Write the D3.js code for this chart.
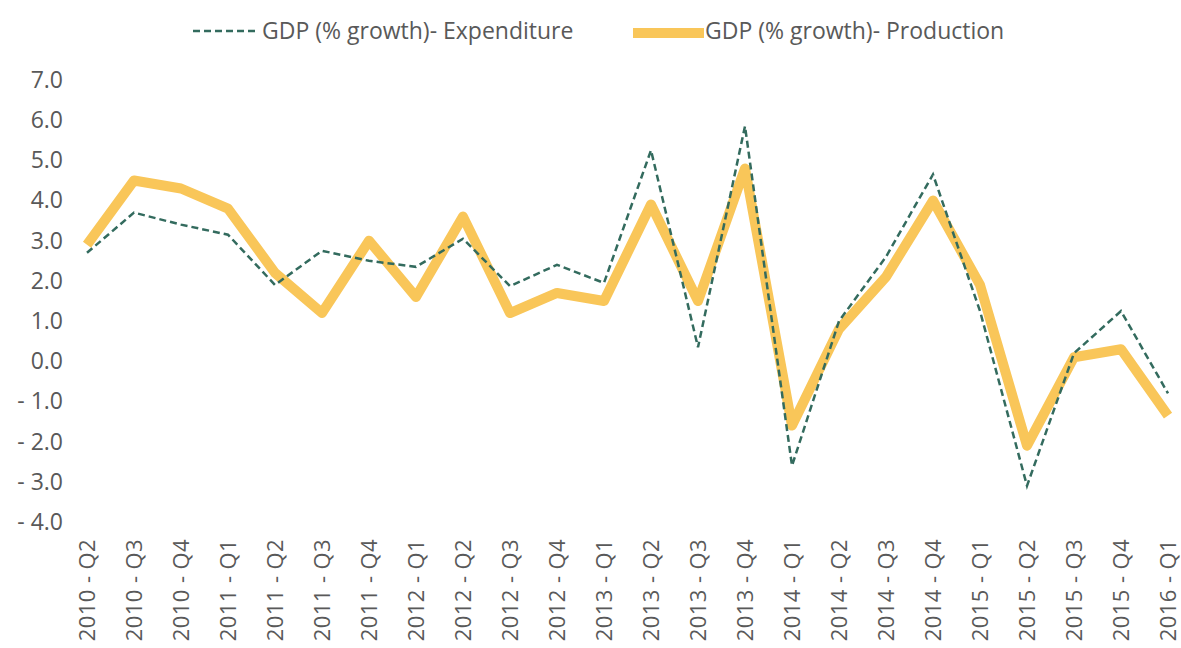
<!DOCTYPE html>
<html>
<head>
<meta charset="utf-8">
<script src="https://cdn.jsdelivr.net/npm/d3@7"></script>
<style>
  body { margin: 0; background: #fff; }
  text { font-family: "Open Sans", sans-serif; fill: #595959; }
</style>
</head>
<body>
<div id="chart"></div>
<script>
const quarters = ["2010 - Q2", "2010 - Q3", "2010 - Q4", "2011 - Q1", "2011 - Q2", "2011 - Q3",
    "2011 - Q4", "2012 - Q1", "2012 - Q2", "2012 - Q3", "2012 - Q4", "2013 - Q1",
    "2013 - Q2", "2013 - Q3", "2013 - Q4", "2014 - Q1", "2014 - Q2", "2014 - Q3",
    "2014 - Q4", "2015 - Q1", "2015 - Q2", "2015 - Q3", "2015 - Q4", "2016 - Q1"];
const expenditure = [2.7, 3.7, 3.4, 3.15, 1.9, 2.75, 2.5, 2.35, 3.05, 1.87, 2.4, 1.95,
    5.25, 0.35, 5.85, -2.6, 1.0, 2.6, 4.65, 1.25, -3.1, 0.2, 1.25, -0.8];
const production = [2.9, 4.5, 4.3, 3.8, 2.2, 1.2, 3.0, 1.6, 3.6, 1.2, 1.7, 1.5,
    3.9, 1.5, 4.8, -1.6, 0.8, 2.1, 4.0, 1.9, -2.1, 0.1, 0.3, -1.35];
const yTicks = [7, 6, 5, 4, 3, 2, 1, 0, -1, -2, -3, -4];
const seriesNames = ["GDP (% growth)- Expenditure", "GDP (% growth)- Production"];

const width = 1181;
const height = 648;

const svg = d3.select("#chart").append("svg")
    .attr("width", width)
    .attr("height", height);

const x = d3.scalePoint().domain(quarters).range([87, 1168]);
const y = d3.scaleLinear().domain([-4, 7]).range([522, 80]);

// y axis labels (no line, no ticks)
const fmt = v => v < 0 ? "- " + Math.abs(v).toFixed(1) : v.toFixed(1);
svg.append("g")
    .attr("transform", "translate(69,0)")
    .call(d3.axisLeft(y).tickValues(yTicks).tickFormat(fmt).tickSize(0).tickPadding(6))
    .call(g => g.select(".domain").remove())
    .call(g => g.selectAll("text")
        .style("font-family", "'Open Sans', sans-serif")
        .style("font-size", "23px")
        .attr("fill", "#595959"));

// x axis labels, rotated
svg.append("g")
    .attr("transform", "translate(0,530)")
    .call(d3.axisBottom(x).tickSize(0))
    .call(g => g.select(".domain").remove())
    .call(g => g.selectAll("text")
        .style("font-family", "'Open Sans', sans-serif")
        .style("font-size", "22px")
        .style("letter-spacing", "0.4px")
        .attr("fill", "#595959")
        .attr("text-anchor", "end")
        .attr("transform", "rotate(-90)")
        .attr("x", -9)
        .attr("y", 0)
        .attr("dy", "0.35em"));

const line = d3.line()
    .x((d, i) => x(quarters[i]))
    .y(d => y(d));

svg.append("path")
    .datum(production)
    .attr("fill", "none")
    .attr("stroke", "#F9C659")
    .attr("stroke-width", 10)
    .attr("stroke-linejoin", "round")
    .attr("d", line);

svg.append("path")
    .datum(expenditure)
    .attr("fill", "none")
    .attr("stroke", "#336B5E")
    .attr("stroke-width", 2.5)
    .attr("stroke-dasharray", "7,4")
    .attr("d", line);

// legend
const legend = svg.append("g");
legend.append("line")
    .attr("x1", 193).attr("x2", 258).attr("y1", 31).attr("y2", 31)
    .attr("stroke", "#336B5E").attr("stroke-width", 2.5)
    .attr("stroke-dasharray", "7,4");
legend.append("text")
    .attr("x", 262).attr("y", 39)
    .style("font-size", "23px")
    .text(seriesNames[0]);
legend.append("line")
    .attr("x1", 633).attr("x2", 704).attr("y1", 33).attr("y2", 33)
    .attr("stroke", "#F9C659").attr("stroke-width", 10);
legend.append("text")
    .attr("x", 705).attr("y", 39)
    .style("font-size", "23px")
    .text(seriesNames[1]);
</script>
</body>
</html>
